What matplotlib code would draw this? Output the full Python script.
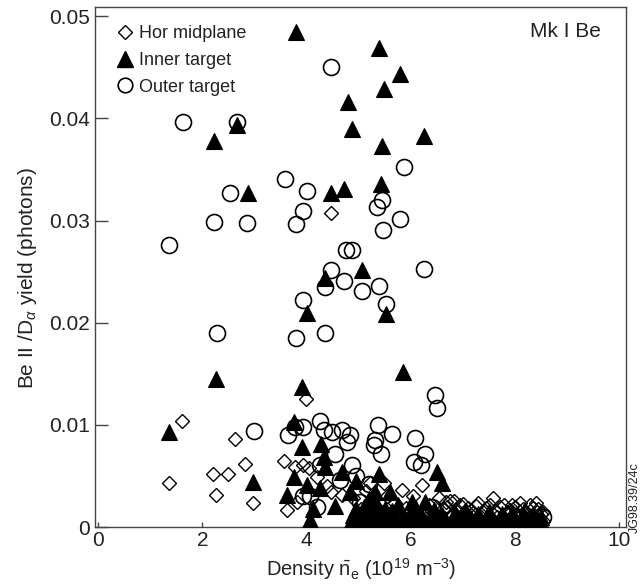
import matplotlib
matplotlib.use("Agg")
import matplotlib.pyplot as plt
from matplotlib.lines import Line2D

plt.rcParams["font.family"] = ["Liberation Sans", "DejaVu Sans"]
plt.rcParams["mathtext.fontset"] = "custom"
plt.rcParams["mathtext.rm"] = "Liberation Sans"
plt.rcParams["mathtext.it"] = "Liberation Sans:italic"

# Hor midplane (open diamonds)
hor_x = [1.35, 1.60, 2.21, 2.26, 2.50, 2.62, 2.82, 2.98, 3.56, 3.62, 3.78, 3.82,
         3.94, 3.99, 4.20, 4.46, 4.47, 4.68, 5.22, 5.48, 5.61, 5.83, 6.22, 6.67,
         6.83, 4.90, 5.05, 5.15, 5.30, 5.45, 5.55, 5.70, 5.90, 6.05, 6.15, 6.35,
         6.45, 6.55, 6.70, 6.80, 6.95, 7.05, 7.15, 7.25, 7.35, 7.45, 7.58, 7.65,
         7.72, 7.85, 7.95, 8.05, 8.15, 8.25, 8.35, 8.40, 8.50, 8.55, 7.00, 7.50,
         8.00, 6.60, 6.25, 5.80, 5.15, 4.40, 4.05,
         6.62, 6.75, 6.88, 7.00, 7.10, 7.20, 7.30, 7.40, 7.52, 7.62, 7.80, 7.90,
         8.00, 8.10, 8.20, 8.30, 8.45, 8.55, 6.90, 7.30, 7.70, 8.10, 8.45]
hor_y = [0.0043, 0.0104, 0.0052, 0.0031, 0.0052, 0.0086, 0.0062, 0.0024, 0.0065, 0.0017,
         0.0059, 0.0025, 0.0061, 0.0125, 0.0049, 0.0034, 0.0307, 0.0031, 0.0043, 0.0043,
         0.0013, 0.0036, 0.0041, 0.0025, 0.0026, 0.0028, 0.0018, 0.0035, 0.0022, 0.0015,
         0.0030, 0.0024, 0.0019, 0.0030, 0.0012, 0.0022, 0.0015, 0.0028, 0.0020, 0.0012,
         0.0022, 0.0015, 0.0008, 0.0021, 0.0013, 0.0019, 0.0028, 0.0010, 0.0020, 0.0015,
         0.0022, 0.0012, 0.0018, 0.0008, 0.0019, 0.0024, 0.0013, 0.0006, 0.0005, 0.0004,
         0.0005, 0.0006, 0.0005, 0.0009, 0.0008, 0.0040, 0.0058,
         0.0018, 0.0026, 0.0017, 0.0023, 0.0019, 0.0014, 0.0024, 0.0017, 0.0022, 0.0016,
         0.0022, 0.0017, 0.0020, 0.0024, 0.0015, 0.0022, 0.0018, 0.0015, 0.0008, 0.0006,
         0.0007, 0.0006, 0.0004]

# Inner target (filled triangles)
inner_x = [1.35, 2.23, 2.26, 2.66, 2.87, 2.98, 3.62, 3.75, 3.76, 3.80, 3.91, 3.92,
           4.01, 4.01, 4.07, 4.13, 4.26, 4.28, 4.33, 4.36, 4.36, 4.46, 4.55, 4.68,
           4.71, 4.80, 4.84, 4.88, 4.90, 5.07, 5.39, 5.42, 5.45, 5.48, 5.53, 5.80,
           5.85, 6.26, 5.40, 6.51, 6.60, 5.61, 5.32, 6.03, 6.28, 4.85, 5.00, 5.10,
           5.15, 5.25, 5.32, 5.40, 5.50, 5.60, 5.72, 5.80, 5.90, 6.00, 6.05, 6.15,
           6.30, 6.40, 6.50, 6.60, 6.75, 6.90, 7.00, 7.10, 7.20, 7.35, 7.45, 7.55,
           7.70, 7.80, 7.90, 8.00, 8.10, 8.20, 8.30, 8.45, 8.55, 4.95, 5.20,
           6.65, 6.85, 6.95, 7.05, 7.15, 7.30, 7.40, 7.50, 7.60, 7.75, 7.85, 7.95,
           8.05, 8.15, 8.25, 8.35, 8.50, 4.95, 5.05, 5.20, 5.35, 5.45, 5.55, 5.65,
           5.75, 5.85, 5.95, 6.10, 6.20, 6.35, 6.45, 6.55]
inner_y = [0.0093, 0.0378, 0.0145, 0.0394, 0.0327, 0.0044, 0.0031, 0.0049, 0.0103, 0.0485,
           0.0137, 0.0078, 0.0210, 0.0041, 0.0007, 0.0018, 0.0038, 0.0081, 0.0069, 0.0059,
           0.0244, 0.0327, 0.0021, 0.0054, 0.0331, 0.0416, 0.0034, 0.0390, 0.0012, 0.0252,
           0.0469, 0.0336, 0.0373, 0.0429, 0.0209, 0.0443, 0.0152, 0.0383, 0.0052, 0.0054,
           0.0043, 0.0034, 0.0034, 0.0025, 0.0025, 0.0005, 0.0003, 0.0020, 0.0008, 0.0002,
           0.0012, 0.0005, 0.0018, 0.0003, 0.0010, 0.0002, 0.0006, 0.0015, 0.0003, 0.0008,
           0.0002, 0.0010, 0.0004, 0.0012, 0.0003, 0.0008, 0.0002, 0.0011, 0.0004, 0.0007,
           0.0002, 0.0009, 0.0004, 0.0010, 0.0003, 0.0008, 0.0002, 0.0010, 0.0004, 0.0007,
           0.0002, 0.0045, 0.0027,
           0.0008, 0.0014, 0.0005, 0.0016, 0.0007, 0.0013, 0.0005, 0.0015, 0.0006, 0.0013,
           0.0006, 0.0014, 0.0005, 0.0013, 0.0006, 0.0012, 0.0010, 0.0018, 0.0008, 0.0015,
           0.0022, 0.0010, 0.0006, 0.0016, 0.0022, 0.0012, 0.0004, 0.0018, 0.0012, 0.0006,
           0.0017, 0.0008]

# Outer target (open circles)
outer_x = [1.36, 1.63, 2.23, 2.28, 2.53, 2.66, 2.85, 2.99, 3.59, 3.80, 3.80, 3.93,
           3.93, 4.01, 4.35, 4.36, 4.46, 4.47, 4.71, 4.76, 4.87, 5.07, 5.36, 5.40,
           5.45, 5.46, 5.53, 5.79, 5.87, 6.25, 6.47, 6.51, 3.65, 3.78, 3.94, 4.26,
           4.33, 4.49, 4.68, 4.78, 4.84, 5.38, 5.65, 5.31, 5.29, 5.42, 6.08, 6.28,
           6.06, 6.19, 4.26, 4.87, 3.94, 5.03, 4.65, 4.07, 5.20, 5.55, 8.55, 4.55,
           4.95, 6.40, 4.20]
outer_y = [0.0276, 0.0396, 0.0299, 0.0190, 0.0327, 0.0396, 0.0298, 0.0094, 0.0341, 0.0297,
           0.0185, 0.0309, 0.0222, 0.0329, 0.0235, 0.0190, 0.0252, 0.0450, 0.0241, 0.0271,
           0.0271, 0.0231, 0.0313, 0.0236, 0.0320, 0.0291, 0.0218, 0.0302, 0.0352, 0.0253,
           0.0129, 0.0117, 0.0090, 0.0098, 0.0098, 0.0104, 0.0095, 0.0093, 0.0095, 0.0083,
           0.0090, 0.0100, 0.0091, 0.0085, 0.0080, 0.0072, 0.0087, 0.0072, 0.0064, 0.0061,
           0.0061, 0.0061, 0.0030, 0.0025, 0.0046, 0.0030, 0.0042, 0.0012, 0.0010, 0.0072,
           0.0050, 0.0020, 0.0020]

ink = "#222222"

fig = plt.figure(figsize=(6.43, 5.85), dpi=100)
ax = fig.add_axes([0.148, 0.099, 0.826, 0.889])

ax.plot(outer_x, outer_y, "o", ms=11.5, mfc="none", mec="black", mew=1.2, zorder=2)
ax.plot(hor_x, hor_y, "D", ms=7, mfc="none", mec="black", mew=1.0, zorder=3)
ax.plot(inner_x, inner_y, "^", ms=12, mfc="black", mec="black", mew=0.8, zorder=4)

ax.set_xlim(-0.06, 10.14)
ax.set_ylim(0, 0.0509)
ax.set_xticks([0, 2, 4, 6, 8, 10])
ax.set_yticks([0, 0.01, 0.02, 0.03, 0.04, 0.05])
ax.set_yticklabels(["0", "0.01", "0.02", "0.03", "0.04", "0.05"])

for s in ax.spines.values():
    s.set_color("#444444")
    s.set_linewidth(1.0)
ax.tick_params(axis="y", direction="in", length=9.5, width=1.0, color="#444444",
               labelsize=15, labelcolor=ink, pad=4)
ax.tick_params(axis="x", direction="in", length=3.6, width=1.0, color="#444444",
               labelsize=15, labelcolor=ink, pad=3)

ax.set_xlabel(r"Density $\bar{\mathrm{n}}_{\mathrm{e}}$ (10$^{19}$ m$^{-3}$)",
              fontsize=14.5, color=ink, labelpad=4)
ax.set_ylabel(r"Be II /D$_{\alpha}$ yield (photons)", fontsize=15, color=ink)
ax.yaxis.set_label_coords(-0.106, 0.479)

handles = [
    Line2D([], [], ls="none", marker="D", ms=7, mfc="white", mec="black", mew=1.0),
    Line2D([], [], ls="none", marker="^", ms=11, mfc="black", mec="black"),
    Line2D([], [], ls="none", marker="o", ms=10.5, mfc="none", mec="black", mew=1.2),
]
ax.legend(handles, ["Hor midplane", "Inner target", "Outer target"],
          loc="upper left", bbox_to_anchor=(0.0395, 0.965), frameon=False,
          fontsize=13, labelcolor=ink, handlelength=1.0, handletextpad=0.25,
          labelspacing=0.54, borderaxespad=0, borderpad=0)

ax.text(0.885, 0.952, "Mk I Be", transform=ax.transAxes, fontsize=15,
        color=ink, ha="center", va="center")

fig.text(0.988, 0.149, "JG98.39/24c", rotation=90, fontsize=9, color=ink,
         ha="center", va="center")

fig.savefig("out.png", dpi=100)
